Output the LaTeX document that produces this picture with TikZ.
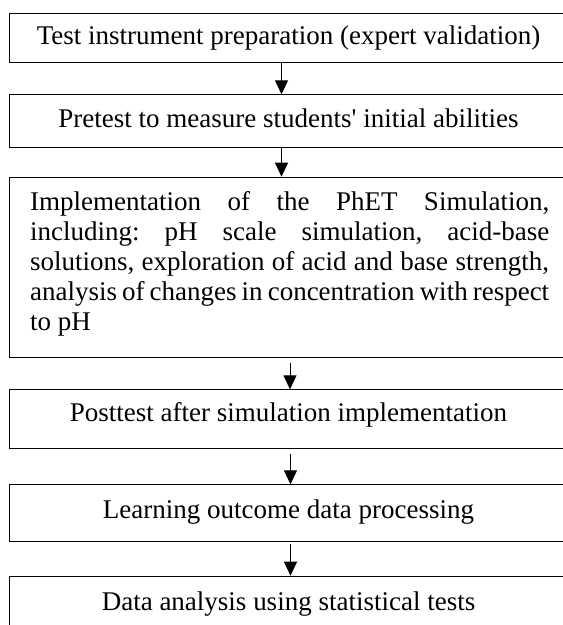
\documentclass[tikz,border=0pt]{standalone}
\usepackage{fontspec}
\setmainfont{Liberation Serif}
\usetikzlibrary{arrows.meta}
\frenchspacing
\begin{document}
\begin{tikzpicture}[
  x=1pt, y=-1pt,
  stepbox/.style={draw=black, line width=1pt, inner sep=0pt,
    minimum width=558pt, anchor=north west},
  steptext/.style={inner sep=0pt, anchor=base,
    font=\fontsize{27}{30}\selectfont},
  flow/.style={draw=black, line width=0.9pt,
    -{Triangle[width=13pt,length=14pt]}}
]
\useasboundingbox (0,0) rectangle (563,625);
\clip (0,0) rectangle (563,625);

% process boxes (right and bottom edges run off the page)
\node[stepbox, minimum height=49.6pt] (b1) at (9,12.7) {};
\node[stepbox, minimum height=52.7pt] (b2) at (9,94.3) {};
\node[stepbox, minimum height=180pt]  (b3) at (9,176.7) {};
\node[stepbox, minimum height=58.4pt] (b4) at (9,389.3) {};
\node[stepbox, minimum height=56.4pt] (b5) at (9,484.3) {};
\node[stepbox, minimum height=70pt]   (b6) at (9,575.7) {};

% box labels
\node[steptext] (t1) at ([yshift=-32pt]b1.north) {Test instrument preparation (expert validation)};
\node[steptext] (t2) at ([yshift=-33pt]b2.north) {Pretest to measure students\textquotesingle{} initial abilities};
\node[steptext, anchor=base west] (t3) at (30,210) {\parbox[t]{519pt}{%
  \makebox[519pt][s]{Implementation of the PhET Simulation,}\\
  \makebox[519pt][s]{including: pH scale simulation, acid-base}\\
  \makebox[519pt][s]{solutions, exploration of acid and base strength,}\\
  \makebox[519pt][s]{analysis of changes in concentration with respect}\\
  \makebox[519pt][l]{to pH}}};
\node[steptext] (t4) at ([yshift=-32pt]b4.north) {Posttest after simulation implementation};
\node[steptext] (t5) at ([yshift=-34pt]b5.north) {Learning outcome data processing};
\node[steptext] (t6) at ([yshift=-35pt]b6.north) {Data analysis using statistical tests};

% connectors
\draw[flow] ([xshift=-7pt]b1.south) -- ([xshift=-7pt]b2.north);
\draw[flow] ([xshift=-7pt]b2.south) -- ([xshift=-7pt]b3.north);
\draw[flow, shorten <=5pt] ([xshift=1.5pt]b3.south) -- ([xshift=1.5pt]b4.north);
\draw[flow, shorten <=5pt] ([xshift=2pt]b4.south) -- ([xshift=2pt]b5.north);
\draw[flow, shorten <=2.5pt] ([xshift=2pt]b5.south) -- ([xshift=2pt]b6.north);
\end{tikzpicture}
\end{document}
